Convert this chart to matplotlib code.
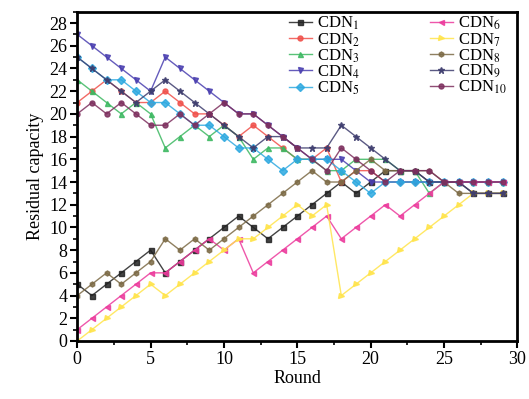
import matplotlib
matplotlib.use("Agg")
import matplotlib.pyplot as plt
from matplotlib.ticker import MultipleLocator

rounds = list(range(30))

CDN1 = [5,4,5,6,7,8,6,7,8,9,10,11,10,9,10,11,12,13,14,13,14,15,15,15,14,14,14,13,13,13]
CDN2 = [21,22,23,22,21,21,22,21,20,20,19,18,19,18,17,16,16,17,14,15,15,14,14,14,14,14,14,14,14,14]
CDN3 = [23,22,21,20,21,20,17,18,19,18,19,18,16,17,17,16,16,15,15,16,16,16,15,15,13,14,14,14,14,14]
CDN4 = [27,26,25,24,23,22,25,24,23,22,21,20,20,19,18,17,16,16,16,15,14,14,14,14,14,14,14,14,14,14]
CDN5 = [25,24,23,23,22,21,21,20,19,19,18,17,17,16,15,16,16,16,15,14,13,14,14,14,14,14,14,14,14,14]
CDN6 = [1,2,3,4,5,6,6,7,8,9,8,9,6,7,8,9,10,11,9,10,11,12,11,12,13,14,14,14,14,14]
CDN7 = [0,1,2,3,4,5,4,5,6,7,8,9,9,10,11,12,11,12,4,5,6,7,8,9,10,11,12,13,13,13]
CDN8 = [4,5,6,5,6,7,9,8,9,8,9,10,11,12,13,14,15,14,14,15,16,15,15,15,15,14,13,13,13,13]
CDN9 = [25,24,23,22,21,22,23,22,21,20,19,18,17,18,18,17,17,17,19,18,17,16,15,15,14,14,14,13,13,13]
CDN10 = [20,21,20,21,20,19,19,20,19,20,21,20,20,19,18,17,16,15,17,16,15,14,15,15,15,14,14,14,14,14]

labels = [f"CDN$_{{{i}}}$" for i in range(1, 11)]
series = [CDN1, CDN2, CDN3, CDN4, CDN5, CDN6, CDN7, CDN8, CDN9, CDN10]
colors = ["#222222", "#f0504a", "#3cb861", "#4a3fb0", "#2ea9e0",
          "#ec3a9c", "#ffe44a", "#7c6a45", "#3e3d6e", "#7d2f5e"]
markers = ["s", "o", "^", "v", "D", "<", ">", "h", "*", "o"]

plt.rcParams['font.family'] = ['Liberation Serif', 'DejaVu Serif']
plt.rcParams['mathtext.fontset'] = 'stix'

fig = plt.figure(figsize=(5.29, 3.99), dpi=100)
ax = fig.add_axes([0.146, 0.1454, 0.832, 0.8253])

for vals, lab, c, m in zip(series, labels, colors, markers):
    ax.plot(rounds, vals, color=c, marker=m,
            markersize=3.6 if m != "*" else 4.5,
            linewidth=1.0, label=lab, alpha=0.85)

ax.set_xlim(0, 30)
ax.set_ylim(0, 29)
ax.xaxis.set_major_locator(MultipleLocator(5))
ax.xaxis.set_minor_locator(MultipleLocator(2.5))
ax.yaxis.set_major_locator(MultipleLocator(2))
ax.yaxis.set_minor_locator(MultipleLocator(1))
ax.tick_params(which='major', direction='out', length=5, width=1.5, labelsize=13, pad=2)
ax.tick_params(which='minor', direction='out', length=3, width=1.2)
for s in ax.spines.values():
    s.set_linewidth(2)

ax.set_xlabel("Round", fontsize=13, labelpad=2)
ax.set_ylabel("Residual capacity", fontsize=13, labelpad=4)

ax.legend(ncol=2, loc='upper right', frameon=False, fontsize=12,
          handlelength=1.4, handletextpad=0.3, columnspacing=4.2,
          labelspacing=-0.08, borderaxespad=0.1, bbox_to_anchor=(0.995, 1.015))

fig.savefig("out.png", dpi=100)
